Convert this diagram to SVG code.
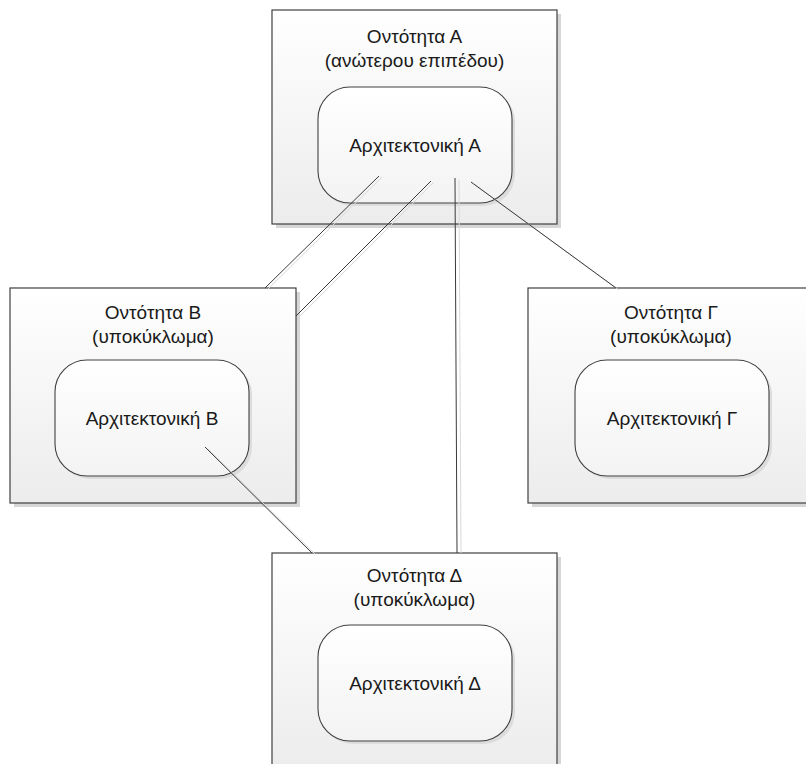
<svg xmlns="http://www.w3.org/2000/svg" width="806" height="764" viewBox="0 0 806 764">
<defs>
<linearGradient id="gBox" x1="0" y1="0" x2="0" y2="1">
<stop offset="0" stop-color="#ffffff"/>
<stop offset="1" stop-color="#ececec"/>
</linearGradient>
<linearGradient id="gIn" x1="0" y1="0" x2="0" y2="1">
<stop offset="0" stop-color="#ffffff"/>
<stop offset="1" stop-color="#f3f3f3"/>
</linearGradient>
</defs>
<style>
.box{fill:url(#gBox);stroke:#404040;stroke-width:1.2}
.bsh{fill:#d6d6d6}
.in{fill:url(#gIn);stroke:#404040;stroke-width:1.1}
.ish{fill:#dcdcdc}
text{font-family:"Liberation Sans",Arial,sans-serif;font-size:19px;fill:#1a1a1a;text-anchor:middle}
.c{stroke:#3a3a3a;stroke-width:1;fill:none}
.cs{stroke:#d8d8d8;stroke-width:1;fill:none}
</style>
<g id="nodeA">
<rect class="bsh" x="276" y="14" width="285" height="214"/>
<rect class="box" x="272" y="10" width="285" height="214"/>
<rect class="ish" x="321" y="90" width="194" height="116" rx="32"/>
<rect class="in" x="318" y="87" width="194" height="116" rx="32"/>
<text x="414.5" y="43">Οντότητα Α</text>
<text x="414.5" y="67">(ανώτερου επιπέδου)</text>
<text x="415" y="152">Αρχιτεκτονική Α</text>
</g>
<g id="nodeB">
<rect class="bsh" x="14" y="292" width="286" height="215"/>
<rect class="box" x="10" y="288" width="286" height="215"/>
<rect class="ish" x="58" y="363" width="194" height="116" rx="32"/>
<rect class="in" x="55" y="360" width="194" height="116" rx="32"/>
<text x="153" y="319">Οντότητα Β</text>
<text x="153" y="343">(υποκύκλωμα)</text>
<text x="152" y="425">Αρχιτεκτονική Β</text>
</g>
<g id="nodeG">
<rect class="bsh" x="532" y="292" width="286" height="215"/>
<rect class="box" x="528" y="288" width="286" height="215"/>
<rect class="ish" x="578" y="363" width="194" height="116" rx="32"/>
<rect class="in" x="575" y="360" width="194" height="116" rx="32"/>
<text x="671" y="319">Οντότητα Γ</text>
<text x="671" y="343">(υποκύκλωμα)</text>
<text x="672" y="425">Αρχιτεκτονική Γ</text>
</g>
<g id="nodeD">
<rect class="bsh" x="276" y="557" width="285" height="215"/>
<rect class="box" x="272" y="553" width="285" height="215"/>
<rect class="ish" x="321" y="628" width="194" height="116" rx="32"/>
<rect class="in" x="318" y="625" width="194" height="116" rx="32"/>
<text x="414.5" y="582">Οντότητα Δ</text>
<text x="414.5" y="606">(υποκύκλωμα)</text>
<text x="415" y="690">Αρχιτεκτονική Δ</text>
</g>
<g id="connectors">
<line class="cs" x1="382" y1="177" x2="268" y2="289"/>
<line class="cs" x1="434" y1="182" x2="299" y2="317"/>
<line class="cs" x1="459" y1="180" x2="461" y2="553"/>
<line class="cs" x1="474" y1="184" x2="619" y2="290"/>
<line class="cs" x1="208" y1="449" x2="315" y2="554"/>
<line class="c" x1="379" y1="176" x2="265" y2="288"/>
<line class="c" x1="431" y1="181" x2="296" y2="316"/>
<line class="c" x1="455" y1="178" x2="457" y2="553"/>
<line class="c" x1="471" y1="182" x2="616" y2="288"/>
<line class="c" x1="205" y1="447" x2="312" y2="553"/>
</g>
</svg>
